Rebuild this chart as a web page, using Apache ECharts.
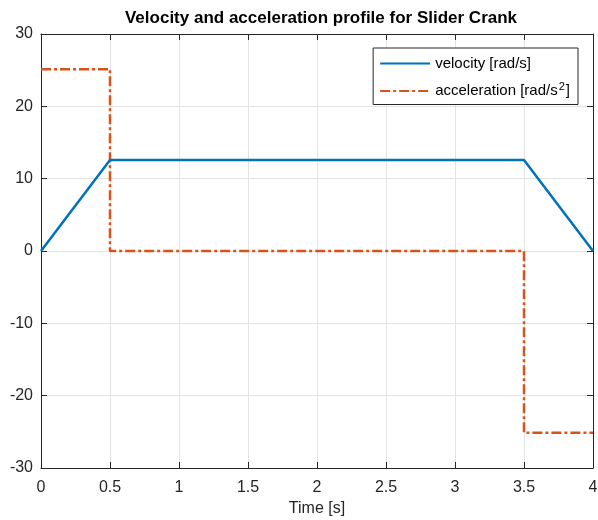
<!DOCTYPE html>
<html><head><meta charset="utf-8">
<script src="https://cdn.jsdelivr.net/npm/echarts@6/dist/echarts.min.js"></script>
<style>html,body{margin:0;padding:0;background:#fff}#c{width:598px;height:520px}</style>
</head><body><div id="c"></div>
<script>
const timePoints = [0, 0.5, 3.5, 4];
const velocity = [0, 12.566, 12.566, 0];
const accelTime = [0, 0.5, 0.5, 3.5, 3.5, 4];
const acceleration = [25.133, 25.133, 0, 0, -25.133, -25.133];
const xTicks = [0, 0.5, 1, 1.5, 2, 2.5, 3, 3.5, 4];
const yTicks = [-30, -20, -10, 0, 10, 20, 30];

const velData = timePoints.map((t, i) => [t, velocity[i]]);
const accData = accelTime.map((t, i) => [t, acceleration[i]]);
const font = '"Liberation Sans", Arial, sans-serif';
const grid = {left: 41, right: 5, top: 34, bottom: 52, containLabel: false, outerBoundsMode: 'none'};
const chart = echarts.init(document.getElementById('c'));
const axCommon = {
  min: xTicks[0], max: xTicks[xTicks.length - 1], interval: 0.5
};
chart.setOption({
  animation: false,
  backgroundColor: '#fff',
  title: {
    text: 'Velocity and acceleration profile for Slider Crank',
    left: 316, top: 5, textAlign: 'center',
    textStyle: {fontFamily: font, fontSize: 17, fontWeight: 'bold', color: '#000'}
  },
  grid: grid,
  legend: {
    orient: 'vertical', right: 20, top: 48,
    backgroundColor: '#fff', borderColor: '#262626', borderWidth: 1,
    padding: [8, 8, 6, 6], itemGap: 10, itemWidth: 50, itemHeight: 15,
    itemStyle: {opacity: 0},
    textStyle: {fontFamily: font, fontSize: 15, color: '#000',
      rich: {sup: {fontSize: 11, verticalAlign: 'top', padding: [0, 1, 9, 1], fontFamily: font, color: '#000'},
             n: {fontSize: 15, fontFamily: font, color: '#000'}}},
    formatter: function (name) {
      if (name.indexOf('acceleration') === 0) return '{n|acceleration [rad/s}{sup|2}{n|]}';
      return '{n|' + name + '}';
    },
    data: ['velocity [rad/s]', 'acceleration [rad/s2]']
  },
  xAxis: [
    Object.assign({type: 'value', position: 'bottom',
      name: 'Time [s]', nameLocation: 'middle', nameGap: 33,
      nameTextStyle: {fontFamily: font, fontSize: 16, color: '#262626'},
      axisLine: {show: true, onZero: false, lineStyle: {color: '#262626', width: 1}},
      axisTick: {show: true, inside: true, length: 6, lineStyle: {color: '#262626'}},
      axisLabel: {fontFamily: font, fontSize: 16, color: '#262626', margin: 12,
        formatter: v => String(v)},
      splitLine: {show: true, lineStyle: {color: '#e3e3e3', width: 1}}
    }, axCommon),
    Object.assign({type: 'value', position: 'top',
      axisLine: {show: true, onZero: false, lineStyle: {color: '#262626', width: 1}},
      axisTick: {show: true, inside: true, length: 6, lineStyle: {color: '#262626'}},
      axisLabel: {show: false}, splitLine: {show: false}
    }, axCommon)
  ],
  yAxis: [
    {type: 'value', position: 'left', min: yTicks[0], max: yTicks[yTicks.length - 1], interval: 10,
      axisLine: {show: true, onZero: false, lineStyle: {color: '#262626', width: 1}},
      axisTick: {show: true, inside: true, length: 6, lineStyle: {color: '#262626'}},
      axisLabel: {fontFamily: font, fontSize: 16, color: '#262626', margin: 8},
      splitLine: {show: true, lineStyle: {color: '#e3e3e3', width: 1}}},
    {type: 'value', position: 'right', min: yTicks[0], max: yTicks[yTicks.length - 1], interval: 10,
      axisLine: {show: true, onZero: false, lineStyle: {color: '#262626', width: 1}},
      axisTick: {show: true, inside: true, length: 6, lineStyle: {color: '#262626'}},
      axisLabel: {show: false}, splitLine: {show: false}}
  ],
  series: [
    {name: 'velocity [rad/s]', type: 'line', data: velData, showSymbol: false, symbol: 'none',
      color: '#0072BD', lineStyle: {color: '#0072BD', width: 2.5}, z: 3},
    {name: 'acceleration [rad/s2]', type: 'line', data: accData, showSymbol: false, symbol: 'none',
      color: '#D95319', lineStyle: {color: '#D95319', width: 2.5, type: [10, 3, 3, 3]}, z: 2}
  ]
});
</script></body></html>
